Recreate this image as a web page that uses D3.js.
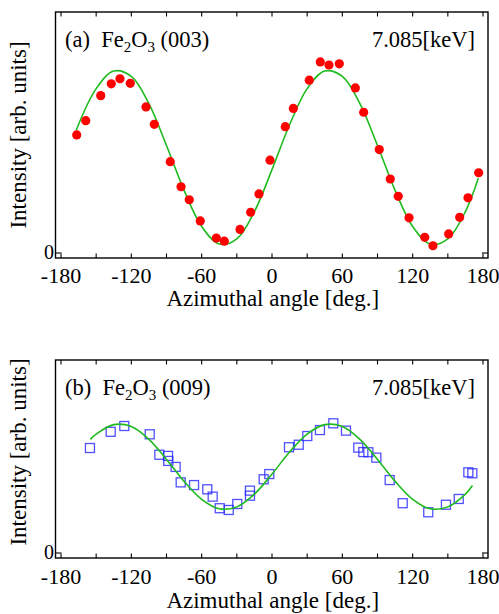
<!DOCTYPE html>
<html><head><meta charset="utf-8">
<script src="https://cdn.jsdelivr.net/npm/d3@7"></script>
<style>html,body{margin:0;padding:0;background:#fff;} svg{display:block;}</style>
</head><body>
<script>
// ---- Data ----
const xTicks = [-180, -120, -60, 0, 60, 120, 180];
const xMinorTicks = [-180,-150,-120,-90,-60,-30,0,30,60,90,120,150,180];

// Panel (a): Fe2O3 (003) measured points
const angleA = [-166.6,-158.9,-146.1,-137.1,-129.7,-120.9,-107.5,-100.4,-86.8,-77.6,-70.6,-61.2,-47.5,-40.7,-27.3,-18.2,-11.1,-1.7,11.3,18.2,31.8,41.2,48.6,57.4,71.1,78.2,91.5,100.9,107.7,116.9,130.3,137.3,150.7,160.1,167.2,176.3];
const intensityA = [0.490,0.549,0.653,0.702,0.723,0.704,0.606,0.534,0.379,0.275,0.221,0.133,0.062,0.049,0.098,0.169,0.245,0.385,0.524,0.600,0.717,0.793,0.780,0.785,0.685,0.584,0.429,0.307,0.235,0.146,0.065,0.030,0.079,0.148,0.229,0.333];
// Panel (a): fit curve
const fitAngleA = [-167,-150,-135,-120,-105,-90,-75,-60,-45,-30,-15,0,15,30,45,60,75,90,105,120,135,150,165,176];
const fitValueA = [0.510,0.682,0.755,0.733,0.620,0.446,0.260,0.110,0.037,0.059,0.172,0.346,0.532,0.682,0.755,0.733,0.620,0.446,0.260,0.110,0.037,0.059,0.172,0.310];

// Panel (b): Fe2O3 (009) measured points
const angleB = [-155.3,-137.6,-126.0,-104.3,-96.1,-88.7,-88.5,-82.2,-77.9,-66.5,-55.2,-50.6,-44.6,-36.9,-29.6,-18.8,-18.8,-7.1,-2.3,14.5,22.8,30.1,40.9,52.3,63.1,73.6,77.9,82.2,89.0,100.4,111.5,133.3,148.4,159.3,167.5,170.9];
const intensityB = [0.544,0.628,0.658,0.615,0.509,0.503,0.477,0.446,0.366,0.352,0.330,0.292,0.232,0.223,0.254,0.323,0.297,0.382,0.409,0.548,0.561,0.606,0.637,0.672,0.634,0.546,0.523,0.522,0.494,0.378,0.258,0.211,0.250,0.280,0.418,0.413];
// Panel (b): fit curve
const fitAngleB = [-155,-150,-135,-120,-105,-90,-75,-60,-45,-30,-15,0,15,30,45,60,75,90,105,120,135,150,165,171];
const fitValueB = [0.589,0.616,0.665,0.655,0.589,0.485,0.371,0.278,0.229,0.239,0.305,0.409,0.523,0.616,0.665,0.655,0.589,0.485,0.371,0.278,0.229,0.239,0.305,0.350];

const panelLabels = [["(a)", "(003)"], ["(b)", "(009)"]];
const energyLabel = "7.085[keV]";
const xTitle = "Azimuthal angle [deg.]";
const yTitle = "Intensity [arb. units]";

// ---- Layout ----
const W = 499, H = 614;
const FONT = '"Liberation Serif", "Times New Roman", serif';
const svg = d3.select("body").append("svg").attr("width", W).attr("height", H);

const frameL = 55.5, frameR = 488;
const x = d3.scaleLinear().domain([-180, 180]).range([61, 483]);

const panels = [
  {top: 12, bottom: 258, zeroY: 253, tickDy: 24.5, titleDy: 47.5, yTitleC: 135,
   pts: [angleA, intensityA], fit: [fitAngleA, fitValueA], kind: "dot", lab: panelLabels[0]},
  {top: 360, bottom: 558, zeroY: 553, tickDy: 25.5, titleDy: 50, yTitleC: 452,
   pts: [angleB, intensityB], fit: [fitAngleB, fitValueB], kind: "square", lab: panelLabels[1]}
];

function txt(g) { return g.append("text").style("font-family", FONT).attr("fill", "#000"); }

panels.forEach(p => {
  const g = svg.append("g");
  const y = d3.scaleLinear().domain([0, 1]).range([p.zeroY, p.top]);

  const line = d3.line().x(d => x(d[0])).y(d => y(d[1])).curve(d3.curveCatmullRom.alpha(0.5));
  const fitData = p.fit[0].map((a, i) => [a, p.fit[1][i]]);
  const ptsData = p.pts[0].map((a, i) => [a, p.pts[1][i]]);
  if (p.kind === "dot") {
    g.append("path").datum(fitData).attr("d", line)
      .attr("fill", "none").attr("stroke", "#1fba1f").attr("stroke-width", 1.6);
    g.selectAll("circle").data(ptsData).enter().append("circle")
      .attr("cx", d => x(d[0])).attr("cy", d => y(d[1])).attr("r", 4.6)
      .attr("fill", "#ff0000");
  } else {
    g.selectAll("rect.pt").data(ptsData).enter().append("rect").attr("class", "pt")
      .attr("x", d => x(d[0]) - 4.5).attr("y", d => y(d[1]) - 4.5)
      .attr("width", 9).attr("height", 9)
      .attr("fill", "none").attr("stroke", "#2424ff").attr("stroke-opacity", 0.8).attr("stroke-width", 1.3);
    g.append("path").datum(fitData).attr("d", line)
      .attr("fill", "none").attr("stroke", "#1fba1f").attr("stroke-width", 1.6);
  }

  g.append("rect").attr("x", frameL).attr("y", p.top)
    .attr("width", frameR - frameL).attr("height", p.bottom - p.top)
    .attr("fill", "none").attr("stroke", "#000").attr("stroke-width", 1.4);

  xMinorTicks.forEach(t => {
    g.append("line").attr("x1", x(t)).attr("x2", x(t)).attr("y1", p.bottom).attr("y2", p.bottom - 4.5)
      .attr("stroke", "#000").attr("stroke-width", 1.1);
    g.append("line").attr("x1", x(t)).attr("x2", x(t)).attr("y1", p.top).attr("y2", p.top + 4.5)
      .attr("stroke", "#000").attr("stroke-width", 1.1);
  });
  g.append("line").attr("x1", frameL).attr("x2", frameL + 6).attr("y1", y(0)).attr("y2", y(0))
    .attr("stroke", "#000").attr("stroke-width", 1.1);
  g.append("line").attr("x1", frameR).attr("x2", frameR - 6).attr("y1", y(0)).attr("y2", y(0))
    .attr("stroke", "#000").attr("stroke-width", 1.1);

  xTicks.forEach(t => {
    txt(g).attr("x", x(t)).attr("y", p.bottom + p.tickDy).attr("text-anchor", "middle")
      .attr("font-size", 22).text(t);
  });
  txt(g).attr("x", frameL - 1.5).attr("y", y(0) + 5.5).attr("text-anchor", "end")
    .attr("font-size", 20).text("0");

  txt(g).attr("x", (frameL + frameR) / 2 + 1).attr("y", p.bottom + p.titleDy).attr("text-anchor", "middle")
    .attr("font-size", 23).text(xTitle);
  txt(g).attr("transform", `translate(26,${p.yTitleC}) rotate(-90)`)
    .attr("text-anchor", "middle").attr("font-size", 23).text(yTitle);

  const t = txt(g).attr("x", 65).attr("y", p.top + 35).attr("font-size", 22.5);
  t.append("tspan").text(p.lab[0] + "\u00a0 Fe");
  t.append("tspan").attr("font-size", 15).attr("dy", 5).text("2");
  t.append("tspan").attr("dy", -5).text("O");
  t.append("tspan").attr("font-size", 15).attr("dy", 5).text("3");
  t.append("tspan").attr("dy", -5).text(" " + p.lab[1]);

  txt(g).attr("x", 475).attr("y", p.top + 35).attr("text-anchor", "end")
    .attr("font-size", 22.5).text(energyLabel);
});
</script>
</body></html>
